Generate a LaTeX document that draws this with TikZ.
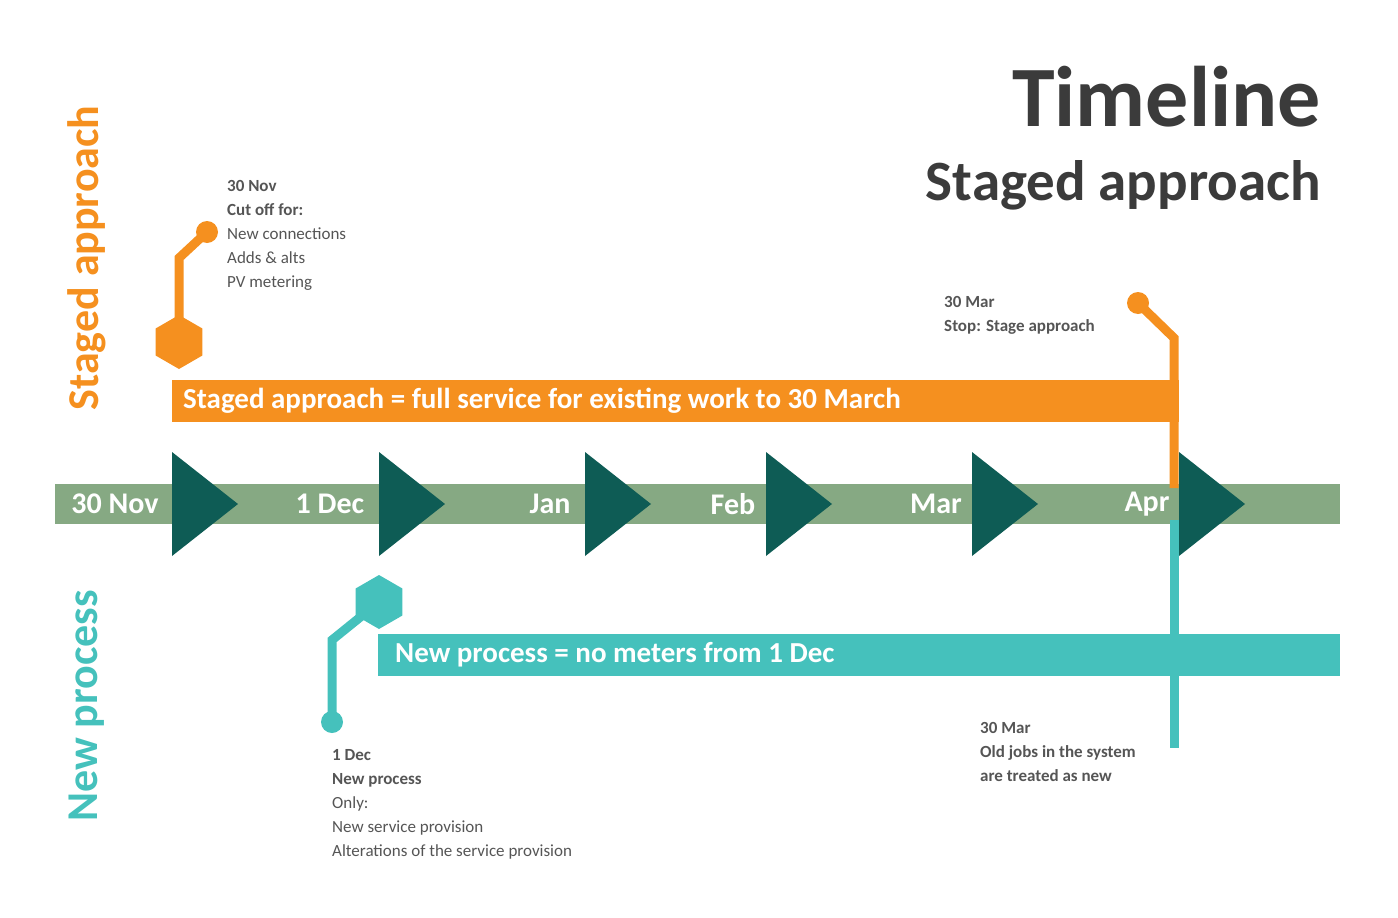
\documentclass[tikz,border=0pt]{standalone}
\usepackage{fontspec}
\setmainfont{Carlito}
\usetikzlibrary{shapes.geometric,positioning}
\definecolor{sage}{HTML}{86A983}
\definecolor{darkteal}{HTML}{0E5C55}
\definecolor{stageorange}{HTML}{F5901F}
\definecolor{newteal}{HTML}{45C1BC}
\definecolor{titlegray}{HTML}{3B3B3B}
\definecolor{notegray}{HTML}{555555}
\tikzset{
    month/.style={text=white, font=\fontsize{30}{30}\selectfont\bfseries, inner sep=0pt},
    arrowhead/.style={fill=darkteal},
    pin/.style={line width=9pt},
    dot/.style={circle, minimum size=22pt, inner sep=0pt},
    hex/.style={regular polygon, regular polygon sides=6, shape border rotate=30, minimum size=54pt, inner sep=0pt},
    note/.style={anchor=north west, align=left, text=notegray, font=\fontsize{17}{24}\selectfont, inner sep=0pt},
    bartext/.style={anchor=west, text=white, font=\fontsize{29}{29}\selectfont\bfseries, inner sep=0pt},
    side/.style={rotate=90, font=\fontsize{44}{44}\selectfont\bfseries, inner sep=0pt}
}
\begin{document}
\begin{tikzpicture}[x=1pt, y=-1pt]
\useasboundingbox (0,0) rectangle (1398,918);
% band and arrows
\fill[sage] (55,484) rectangle (1340,524);
\foreach \x in {172,379,585,766,972,1179}
    \fill[arrowhead] (\x,452) -- (\x+66,504) -- (\x,556) -- cycle;
\node[month] (nov) at (115,504) {30 Nov};
\node[month] (dec) at (330,504) {1 Dec};
\node[month] (jan) at (550,504) {Jan};
\node[month] (feb) at (733,504) {Feb};
\node[month] (mar) at (936,504) {Mar};
\node[month] (apr) at (1147,504) {Apr};
% bars
\fill[stageorange] (172,380) rectangle (1179,422);
\node[bartext] (stagebar) at (183,401) {Staged approach = full service for existing work to 30 March};
\fill[newteal] (378,634) rectangle (1340,676);
\node[bartext] (newbar) at (395,655) {New process = no meters from 1 Dec};
% stage pins
\node[hex, fill=stageorange] (hexa) at (179,342) {};
\node[dot, fill=stageorange] (dota) at (207,232) {};
\coordinate (benda) at (179,258);
\draw[pin, stageorange] (hexa.center) -- (benda) -- (dota.center);
\node[dot, fill=stageorange] (dotb) at (1138,303) {};
\coordinate (bendb) at (1174,338);
\coordinate (endb) at (1174,488);
\draw[pin, stageorange] (dotb.center) -- (bendb) -- (endb);
% new process pins
\node[hex, fill=newteal] (hexc) at (379,602) {};
\node[dot, fill=newteal] (dotc) at (332,722) {};
\coordinate (bendc) at (332,640);
\draw[pin, newteal] (hexc.center) -- (bendc) -- (dotc.center);
\coordinate (topd) at (1174,520);
\coordinate (endd) at (1174,748);
\draw[pin, newteal] (topd) -- (endd);
% notes
\node[note] (notea) at (227,180) {\textbf{30 Nov}\\\textbf{Cut off for:}\\New connections\\Adds \& alts\\PV metering};
\node[note] (noteb) at (944,296) {\textbf{30 Mar}\\\textbf{Stop: Stage approach}};
\node[note] (notec) at (332,749) {\textbf{1 Dec}\\\textbf{New process}\\Only:\\New service provision\\Alterations of the service provision};
\node[note] (noted) at (980,722) {\textbf{30 Mar}\\\textbf{Old jobs in the system}\\\textbf{are treated as new}};
% side labels and title
\node[side, text=stageorange] (sidea) at (87,258) {Staged approach};
\node[side, text=newteal] (sideb) at (87,706) {New process};
\node[anchor=east, text=titlegray, font=\fontsize{86}{86}\selectfont\bfseries, inner sep=0pt] (title) at (1321,97) {Timeline};
\node[anchor=east, text=titlegray, font=\fontsize{57}{57}\selectfont\bfseries, inner sep=0pt] (subtitle) at (1321,185) {Staged approach};
\end{tikzpicture}
\end{document}
